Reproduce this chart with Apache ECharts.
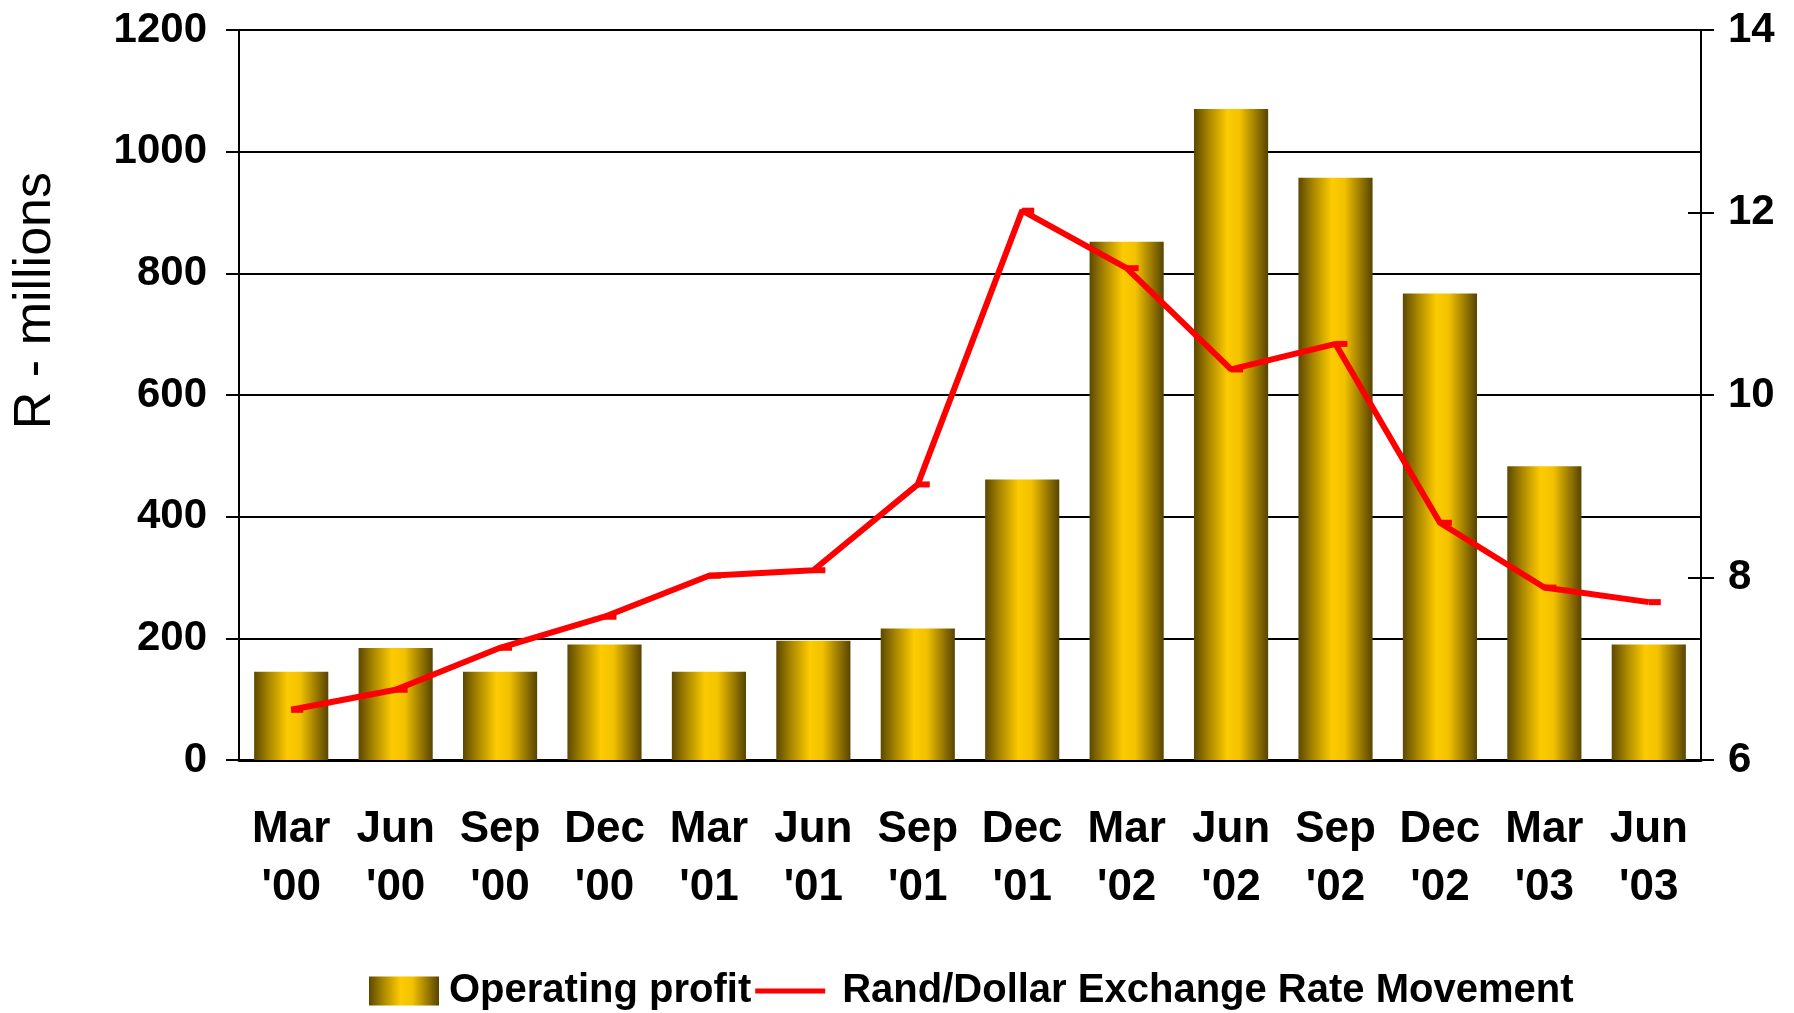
<!DOCTYPE html>
<html>
<head>
<meta charset="utf-8">
<title>Operating profit vs Rand/Dollar</title>
<script src="https://cdn.jsdelivr.net/npm/echarts@6/dist/echarts.min.js"></script>
<style>
  html, body { margin: 0; padding: 0; background: #fff; }
  #main { width: 1794px; height: 1013px; }
</style>
</head>
<body>
<div id="main"></div>
<script>
var categories = ["Mar\n'00", "Jun\n'00", "Sep\n'00", "Dec\n'00", "Mar\n'01", "Jun\n'01", "Sep\n'01",
  "Dec\n'01", "Mar\n'02", "Jun\n'02", "Sep\n'02", "Dec\n'02", "Mar\n'03", "Jun\n'03"];
var operatingProfit = [145, 184, 145, 190, 145, 196, 216, 461, 852, 1070, 957, 767, 483, 190];
var exchangeRate = [6.55, 6.77, 7.23, 7.57, 8.02, 8.08, 9.02, 12.02, 11.39, 10.28, 10.56, 8.60, 7.89, 7.73];
var profitTicks = [0, 200, 400, 600, 800, 1000, 1200];
var rateTicks = [6, 8, 10, 12, 14];

var font = "'Liberation Sans Narrow', 'Arial Narrow', 'Liberation Sans', Arial, sans-serif";

// gold cylinder look for the bars
var gold = new echarts.graphic.LinearGradient(0, 0, 1, 0, [
  { offset: 0, color: '#5c4800' },
  { offset: 0.2, color: '#a98700' },
  { offset: 0.45, color: '#fdcb00' },
  { offset: 0.62, color: '#f2c200' },
  { offset: 1, color: '#574400' }
]);

var chart = echarts.init(document.getElementById('main'));

chart.setOption({
  backgroundColor: '#ffffff',
  animation: false,
  textStyle: { fontFamily: font },
  grid: { left: 239, right: 93, top: 30, bottom: 253 },
  graphic: [{
    type: 'text',
    left: 10,
    top: 172,
    rotation: Math.PI / 2,
    style: {
      text: 'R - millions',
      font: 'normal 52px "Liberation Sans", Arial, sans-serif',
      fill: '#000'
    }
  }],
  legend: {
    left: 364,
    top: 966,
    itemWidth: 70,
    itemHeight: 29,
    itemGap: 4,
    textStyle: { color: '#000', fontSize: 40, fontWeight: 'bold', fontFamily: font, padding: [0, 0, 0, 5] },
    data: [
      { name: 'Operating profit', icon: 'rect' },
      { name: 'Rand/Dollar Exchange Rate Movement', icon: 'path://M0,0H84V6H0Z',
        textStyle: { padding: [0, 0, 0, 12] } }
    ]
  },
  xAxis: [{
    type: 'category',
    data: categories,
    axisLine: { lineStyle: { color: '#000', width: 3 } },
    axisTick: { length: 13, lineStyle: { color: '#000', width: 2 } },
    axisLabel: { color: '#000', fontSize: 44, fontWeight: 'bold', lineHeight: 58, margin: 41, interval: 0 }
  }, {
    type: 'category',
    data: categories,
    position: 'bottom',
    axisLine: { show: false },
    axisTick: { inside: true, length: 11, lineStyle: { color: '#000', width: 2 } },
    axisLabel: { show: false }
  }],
  yAxis: [{
    type: 'value',
    min: profitTicks[0],
    max: profitTicks[profitTicks.length - 1],
    interval: profitTicks[1] - profitTicks[0],
    axisLine: { show: true, lineStyle: { color: '#000', width: 2 } },
    axisTick: { show: true, length: 13, lineStyle: { color: '#000', width: 2 } },
    splitLine: { lineStyle: { color: '#000', width: 2 } },
    axisLabel: { color: '#000', fontSize: 42, fontWeight: 'bold', margin: 32, formatter: function (v) { return String(v); } }
  }, {
    type: 'value',
    position: 'right',
    min: rateTicks[0],
    max: rateTicks[rateTicks.length - 1],
    interval: rateTicks[1] - rateTicks[0],
    axisLine: { show: true, lineStyle: { color: '#000', width: 2 } },
    axisTick: { show: true, length: 13, lineStyle: { color: '#000', width: 2 } },
    splitLine: { show: false },
    axisLabel: { color: '#000', fontSize: 42, fontWeight: 'bold', margin: 27 }
  }, {
    type: 'value',
    position: 'right',
    min: rateTicks[0],
    max: rateTicks[rateTicks.length - 1],
    interval: rateTicks[1] - rateTicks[0],
    axisLine: { show: false },
    axisTick: { show: true, inside: true, length: 13, lineStyle: { color: '#000', width: 2 } },
    splitLine: { show: false },
    axisLabel: { show: false }
  }],
  series: [{
    name: 'Operating profit',
    type: 'bar',
    data: operatingProfit,
    barCategoryGap: '29%',
    itemStyle: { color: gold }
  }, {
    name: 'Rand/Dollar Exchange Rate Movement',
    type: 'line',
    yAxisIndex: 1,
    data: exchangeRate,
    symbol: 'rect',
    symbolSize: [12, 6],
    symbolOffset: [6, 0],
    lineStyle: { color: '#ff0000', width: 6 },
    itemStyle: { color: '#ff0000' }
  }]
});
</script>
</body>
</html>
